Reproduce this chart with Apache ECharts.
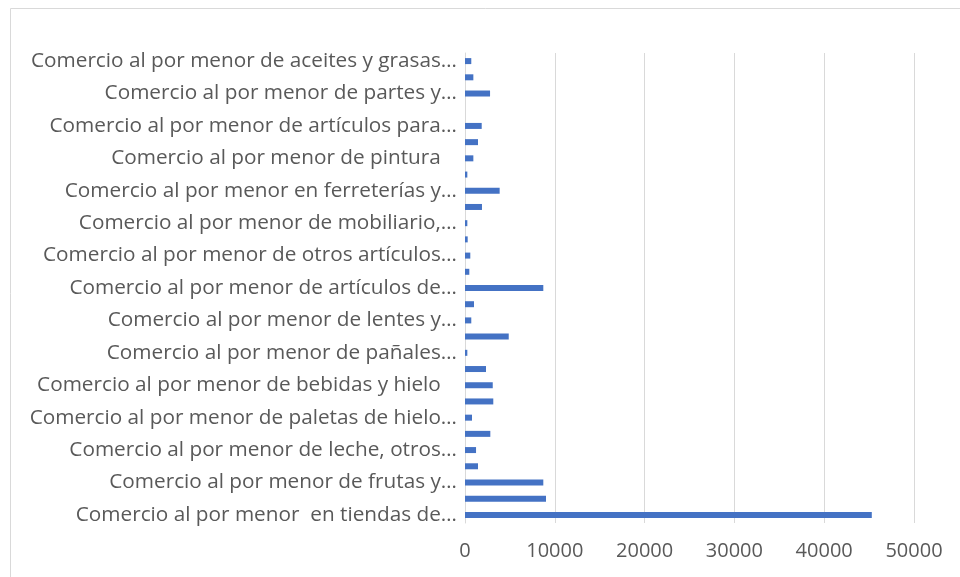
<!DOCTYPE html>
<html>
<head>
<meta charset="utf-8">
<script src="https://cdn.jsdelivr.net/npm/echarts@6/dist/echarts.min.js"></script>
<style>
  html, body { margin: 0; padding: 0; background: #fff; }
  #chart { width: 960px; height: 577px; }
</style>
</head>
<body>
<div id="chart"></div>
<script>
// categories, bottom to top (only every other one is labelled in the picture)
const categories = [
  'Comercio al por menor  en tiendas de…',
  'Comercio al por menor de carnes…',
  'Comercio al por menor de frutas y…',
  'Comercio al por menor de semillas y…',
  'Comercio al por menor de leche, otros…',
  'Comercio al por menor de dulces y…',
  'Comercio al por menor de paletas de hielo…',
  'Comercio al por menor de otros alimentos',
  'Comercio al por menor de bebidas y hielo   ',
  'Comercio al por menor de cigarros…',
  'Comercio al por menor de pañales…',
  'Comercio al por menor de ropa…',
  'Comercio al por menor de lentes y…',
  'Comercio al por menor de juguetes…',
  'Comercio al por menor de artículos de…',
  'Comercio al por menor de regalos…',
  'Comercio al por menor de otros artículos…',
  'Comercio al por menor de muebles…',
  'Comercio al por menor de mobiliario,…',
  'Comercio al por menor de vidrios…',
  'Comercio al por menor en ferreterías y…',
  'Comercio al por menor de pisos…',
  'Comercio al por menor de pintura   ',
  'Comercio al por menor de materiales…',
  'Comercio al por menor de artículos para…',
  'Comercio al por menor de automóviles…',
  'Comercio al por menor de partes y…',
  'Comercio al por menor de llantas…',
  'Comercio al por menor de aceites y grasas…'
];

const values = [
  45300, 9020, 8720, 1450, 1230, 2820, 780, 3150, 3090, 2340,
  260, 4870, 700, 1000, 8720, 480, 590, 300, 260, 1890,
  3860, 260, 930, 1450, 1860, 0, 2790, 930, 700
];

const xTicks = { min: 0, max: 50000, interval: 10000 };

const chart = echarts.init(document.getElementById('chart'));

chart.setOption({
  animation: false,
  textStyle: { fontFamily: 'Open Sans' },
  graphic: [{
    type: 'rect',
    shape: { x: 10.5, y: 8.5, width: 960, height: 580 },
    style: { fill: 'none', stroke: '#d9d9d9', lineWidth: 1 },
    silent: true
  }],
  grid: {
    left: 465,
    right: 46,
    top: 53,
    bottom: 54,
    containLabel: false
  },
  xAxis: {
    type: 'value',
    min: xTicks.min,
    max: xTicks.max,
    interval: xTicks.interval,
    axisLine: { show: false },
    axisTick: { show: false },
    splitLine: { lineStyle: { color: '#d9d9d9', width: 1 } },
    axisLabel: {
      color: '#595959',
      fontSize: 20,
      margin: 18,
      formatter: v => String(v)
    }
  },
  yAxis: {
    type: 'category',
    data: categories,
    axisLine: { show: true, lineStyle: { color: '#d9d9d9', width: 1 } },
    axisTick: { show: false },
    axisLabel: { color: '#595959', fontSize: 20.75, margin: 8, interval: 1 }
  },
  series: [{
    type: 'bar',
    data: values,
    barWidth: 6,
    itemStyle: { color: '#4472C4' }
  }]
});
</script>
</body>
</html>
